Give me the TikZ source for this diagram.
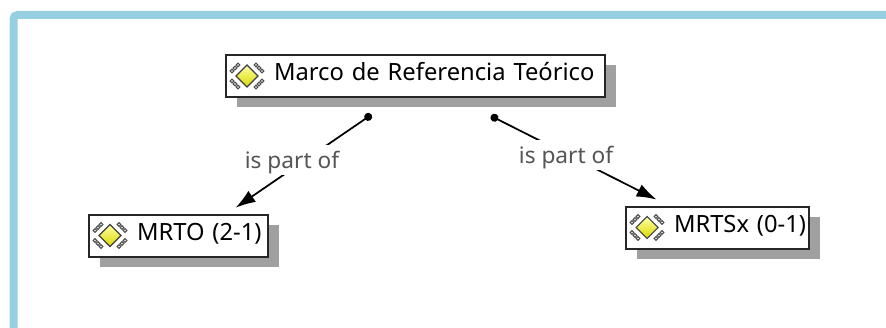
\documentclass[tikz,border=0pt]{standalone}
\usepackage{fontspec}
\setmainfont{Noto Sans}
\usetikzlibrary{arrows.meta,shadows}

\definecolor{framecol}{HTML}{95CFE0}
\definecolor{shadowcol}{HTML}{A0A0A0}
\definecolor{labelcol}{HTML}{555555}

\tikzset{
	concept/.style={draw=black!85,line width=1.5pt,fill=white,inner xsep=0pt,inner ysep=0pt,outer sep=0pt,
		minimum height=31.5pt,text height=13pt,text depth=6pt,align=left,font=\fontsize{17.8}{20}\selectfont,
		general shadow={fill=shadowcol,shadow xshift=8.25pt,shadow yshift=-7.5pt}},
	relation/.style={fill=white,inner xsep=0pt,inner ysep=0pt,minimum height=22pt,text height=15pt,text depth=3pt,text=labelcol,
		font=\fontsize{17}{19}\selectfont},
	ispart/.style={line width=1.3pt,{Circle[length=6pt]}-{Latex[length=15pt,width=10pt]}},
	conceptmark/.pic={
		\foreach \sx/\sy in {1/1,1/-1,-1/1,-1/-1}
			\foreach \a/\b in {15/5,12/8,9/11}
				\draw[black!70,line width=0.8pt,fill=white](\sx*\a,\sy*\b)circle[radius=1.8];
		\draw[black!75,line width=0.8pt,top color=yellow!35,bottom color=yellow!85!black](0,-11)--(11,0)--(0,11)--(-11,0)--cycle;
	}
}

\begin{document}
\begin{tikzpicture}[x=0.75pt,y=-0.75pt]
\useasboundingbox (0,0) rectangle (886,328);

\draw[framecol,line width=6pt,rounded corners=3pt](13.5,328)|-(886,15);

\foreach \n/\x/\y/\w/\t in {marco/415.5/76/379/Marco de Referencia Teórico,mrto/178.5/235.5/179/MRTO (2-1),mrtsx/717.5/227.5/183/MRTSx (0-1)}{
	\node[concept,text width=\w*0.75pt](\n) at (\x,\y) {\hspace*{36pt}\t};
	\pic at ([xshift=15.75pt]\n.west) {conceptmark};
}

\draw[ispart,shorten <=23.4pt,shorten >=9pt](marco.229)--(mrto.24);
\draw[ispart,shorten <=31.5pt,shorten >=11.5pt](marco.331)--(mrtsx.156);

\node[relation] (partl) at (292,160) {is part of};
\node[relation] (partr) at (566,155) {is part of};

\end{tikzpicture}
\end{document}
